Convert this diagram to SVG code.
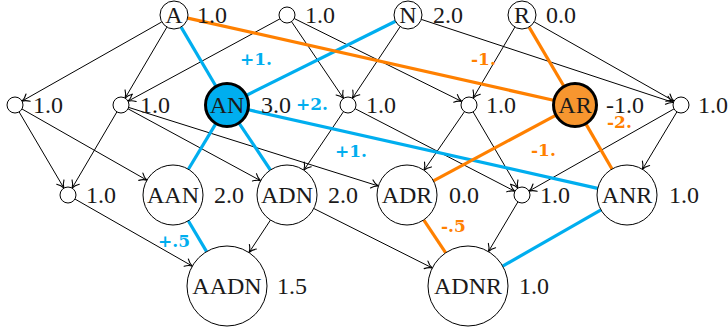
<svg xmlns="http://www.w3.org/2000/svg" width="728" height="333" viewBox="0 0 728 333">
<defs>
<marker id="arr" markerUnits="userSpaceOnUse" markerWidth="14" markerHeight="14" viewBox="-8 -7 10 14" refX="0" refY="0" orient="auto" overflow="visible">
<path d="M-7,-4.2 C-4.5,-1.6 -1.8,-0.4 0,0 C-1.8,0.4 -4.5,1.6 -7,4.2" fill="none" stroke="#000" stroke-width="1.1" stroke-linecap="round"/>
</marker>
</defs>
<style>
.e{stroke:#000;stroke-width:1;fill:none;marker-end:url(#arr)}
.b{stroke:#00aeef;stroke-width:3.2;fill:none}
.o{stroke:#ff8000;stroke-width:3.2;fill:none}
.n{fill:#fff;stroke:#000;stroke-width:1}
.t{font-family:"Liberation Serif","Times New Roman",serif;font-size:24px;fill:#1a1a1a}
.m{text-anchor:middle}
.wb{font-family:"DejaVu Serif",serif;font-weight:bold;font-size:17px;fill:#00aeef}
.wo{font-family:"DejaVu Serif",serif;font-weight:bold;font-size:17px;fill:#ff8000}
</style>
<rect width="728" height="333" fill="#fff"/>
<g id="connectors">
<line class="e" x1="161.8" y1="21.9" x2="22.0" y2="101.1"/>
<line class="e" x1="166.9" y1="27.1" x2="125.1" y2="98.1"/>
<line class="e" x1="280.0" y1="18.8" x2="128.0" y2="101.2"/>
<line class="e" x1="291.5" y1="21.6" x2="343.5" y2="98.4"/>
<line class="e" x1="294.2" y1="18.5" x2="461.8" y2="101.5"/>
<line class="e" x1="400.2" y1="26.6" x2="352.4" y2="98.3"/>
<line class="e" x1="421.3" y1="19.4" x2="673.4" y2="102.5"/>
<line class="e" x1="514.9" y1="27.1" x2="473.1" y2="98.1"/>
<line class="e" x1="534.2" y1="21.9" x2="674.0" y2="101.1"/>
<line class="e" x1="19.1" y1="111.9" x2="63.9" y2="188.1"/>
<line class="e" x1="22.0" y1="109.0" x2="146.9" y2="180.2"/>
<line class="e" x1="116.9" y1="111.9" x2="72.1" y2="188.1"/>
<line class="e" x1="128.0" y1="108.8" x2="260.6" y2="180.7"/>
<line class="e" x1="128.6" y1="107.4" x2="378.4" y2="186.0"/>
<line class="e" x1="343.5" y1="111.6" x2="303.8" y2="170.2"/>
<line class="e" x1="355.1" y1="108.7" x2="514.9" y2="191.3"/>
<line class="e" x1="464.5" y1="111.6" x2="424.0" y2="170.3"/>
<line class="e" x1="473.1" y1="111.9" x2="517.9" y2="188.1"/>
<line class="e" x1="674.0" y1="108.9" x2="529.0" y2="191.1"/>
<line class="e" x1="676.9" y1="111.9" x2="642.4" y2="169.3"/>
<line class="e" x1="74.9" y1="199.0" x2="192.3" y2="266.1"/>
<line class="e" x1="270.5" y1="220.0" x2="249.0" y2="252.6"/>
<line class="e" x1="313.8" y1="208.5" x2="432.3" y2="268.0"/>
<line class="e" x1="517.9" y1="201.9" x2="488.4" y2="251.6"/>
<line class="b" x1="181.1" y1="27.1" x2="215.8" y2="86.0"/>
<line class="b" x1="395.5" y1="21.2" x2="246.7" y2="95.2"/>
<line class="b" x1="215.7" y1="123.9" x2="188.4" y2="169.3"/>
<line class="b" x1="239.2" y1="123.3" x2="270.4" y2="170.0"/>
<line class="b" x1="248.5" y1="109.8" x2="597.7" y2="188.4"/>
<line class="b" x1="188.3" y1="220.8" x2="206.6" y2="251.6"/>
<line class="b" x1="601.0" y1="209.9" x2="502.7" y2="266.1"/>
<line class="o" x1="187.7" y1="18.1" x2="553.5" y2="100.2"/>
<line class="o" x1="529.1" y1="27.1" x2="563.8" y2="86.0"/>
<line class="o" x1="555.6" y1="115.4" x2="433.4" y2="180.8"/>
<line class="o" x1="586.0" y1="124.1" x2="612.0" y2="169.0"/>
<line class="o" x1="423.7" y1="219.9" x2="445.7" y2="252.8"/>
<text class="wb" x="240" y="65">+1.</text>
<text class="wb" x="296" y="110">+2.</text>
<text class="wb" x="335" y="157">+1.</text>
<text class="wb" x="158" y="247">+.5</text>
<text class="wo" x="471" y="65">-1.</text>
<text class="wo" x="607" y="128">-2.</text>
<text class="wo" x="531" y="156">-1.</text>
<text class="wo" x="441" y="232">-.5</text>
</g>
<g id="A"><circle class="n" cx="174" cy="15" r="14"/><text class="t m" x="174" y="23">A</text><text class="t" x="197" y="23">1.0</text></g>
<g id="T"><circle class="n" cx="287" cy="15" r="8"/><text class="t" x="305" y="23">1.0</text></g>
<g id="N"><circle class="n" cx="408" cy="15" r="14"/><text class="t m" x="408" y="23">N</text><text class="t" x="433" y="23">2.0</text></g>
<g id="R"><circle class="n" cx="522" cy="15" r="14"/><text class="t m" x="522" y="23">R</text><text class="t" x="546" y="23">0.0</text></g>
<g id="L1"><circle class="n" cx="15" cy="105" r="8"/><text class="t" x="33" y="113">1.0</text></g>
<g id="L2"><circle class="n" cx="121" cy="105" r="8"/><text class="t" x="140" y="113">1.0</text></g>
<g id="AN"><circle cx="227" cy="105" r="21.5" fill="#00aeef" stroke="#000" stroke-width="3"/><text class="t m" x="227" y="113">AN</text><text class="t" x="261" y="113">3.0</text></g>
<g id="L3"><circle class="n" cx="348" cy="105" r="8"/><text class="t" x="366" y="113">1.0</text></g>
<g id="L4"><circle class="n" cx="469" cy="105" r="8"/><text class="t" x="486" y="113">1.0</text></g>
<g id="AR"><circle cx="575" cy="105" r="21.5" fill="#f7962f" stroke="#000" stroke-width="3"/><text class="t m" x="575" y="113">AR</text><text class="t" x="606" y="113">-1.0</text></g>
<g id="L5"><circle class="n" cx="681" cy="105" r="8"/><text class="t" x="698" y="113">1.0</text></g>
<g id="M1"><circle class="n" cx="68" cy="195" r="8"/><text class="t" x="86" y="203">1.0</text></g>
<g id="AAN"><circle class="n" cx="173" cy="195" r="30"/><text class="t m" x="173" y="203">AAN</text><text class="t" x="214" y="203">2.0</text></g>
<g id="ADN"><circle class="n" cx="287" cy="195" r="30"/><text class="t m" x="287" y="203">ADN</text><text class="t" x="328" y="203">2.0</text></g>
<g id="ADR"><circle class="n" cx="407" cy="195" r="30"/><text class="t m" x="407" y="203">ADR</text><text class="t" x="449" y="203">0.0</text></g>
<g id="M2"><circle class="n" cx="522" cy="195" r="8"/><text class="t" x="540" y="203">1.0</text></g>
<g id="ANR"><circle class="n" cx="627" cy="195" r="30"/><text class="t m" x="627" y="203">ANR</text><text class="t" x="669" y="203">1.0</text></g>
<g id="AADN"><circle class="n" cx="227" cy="286" r="40"/><text class="t m" x="227" y="294">AADN</text><text class="t" x="277" y="294">1.5</text></g>
<g id="ADNR"><circle class="n" cx="468" cy="286" r="40"/><text class="t m" x="468" y="294">ADNR</text><text class="t" x="519" y="294">1.0</text></g>
</svg>
